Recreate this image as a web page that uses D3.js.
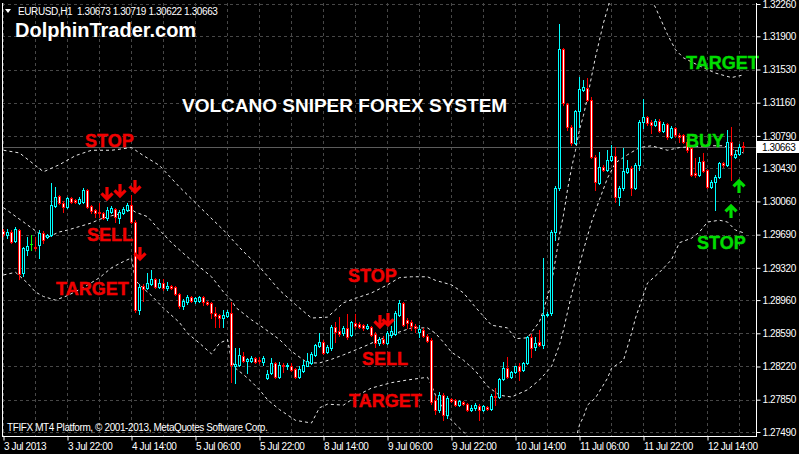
<!DOCTYPE html>
<html><head><meta charset="utf-8">
<script src="https://cdn.jsdelivr.net/npm/d3@7"></script>
<style>html,body{margin:0;padding:0;background:#000;overflow:hidden}</style>
</head><body>
<svg id="c" width="799" height="454" style="display:block;background:#000"></svg>
<script>
const opens = [1.2973,1.2969,1.2972,1.2962,1.2974,1.2926,1.2952,1.2958,1.2955,1.2957,1.2971,1.2966,1.2969,1.3001,1.3012,1.3004,1.3000,1.3010,1.3008,1.3004,1.3005,1.3019,1.3001,1.2996,1.2994,1.2993,1.2988,1.2994,1.2998,1.2988,1.2993,1.2996,1.3002,1.2983,1.2885,1.2912,1.2909,1.2914,1.2920,1.2911,1.2915,1.2909,1.2912,1.2911,1.2903,1.2889,1.2894,1.2900,1.2895,1.2895,1.2900,1.2894,1.2893,1.2882,1.2879,1.2876,1.2878,1.2882,1.2823,1.2824,1.2834,1.2828,1.2828,1.2831,1.2829,1.2827,1.2809,1.2815,1.2826,1.2810,1.2824,1.2822,1.2823,1.2819,1.2810,1.2817,1.2823,1.2826,1.2835,1.2845,1.2849,1.2838,1.2843,1.2866,1.2862,1.2859,1.2865,1.2857,1.2871,1.2869,1.2868,1.2865,1.2866,1.2858,1.2848,1.2853,1.2848,1.2857,1.2858,1.2879,1.2893,1.2874,1.2872,1.2867,1.2861,1.2863,1.2856,1.2852,1.2785,1.2774,1.2790,1.2768,1.2786,1.2785,1.2779,1.2782,1.2780,1.2773,1.2776,1.2778,1.2774,1.2777,1.2775,1.2789,1.2788,1.2808,1.2820,1.2810,1.2816,1.2822,1.2818,1.2826,1.2855,1.2844,1.2849,1.2846,1.2879,1.2882,1.2972,1.3021,1.3176,1.3115,1.3089,1.3071,1.3107,1.3130,1.3132,1.3119,1.3056,1.3027,1.3044,1.3041,1.3052,1.3057,1.3011,1.3021,1.3039,1.3043,1.3021,1.3047,1.3095,1.3100,1.3095,1.3091,1.3096,1.3085,1.3092,1.3078,1.3088,1.3080,1.3080,1.3072,1.3066,1.3038,1.3035,1.3051,1.3041,1.3022,1.3028,1.3033,1.3049,1.3047,1.3072,1.3056,1.3059,1.30673];
const highs = [1.2975,1.2975,1.2974,1.2978,1.2975,1.2955,1.2966,1.2969,1.2966,1.2974,1.2973,1.2970,1.3027,1.3022,1.3013,1.3006,1.3011,1.3011,1.3009,1.3011,1.3021,1.3020,1.3002,1.2998,1.3004,1.2994,1.3000,1.3001,1.2999,1.2996,1.3000,1.3004,1.3013,1.2985,1.2914,1.2914,1.2926,1.2930,1.2921,1.2920,1.2920,1.2916,1.2913,1.2912,1.2904,1.2897,1.2902,1.2901,1.2900,1.2901,1.2901,1.2895,1.2894,1.2888,1.2880,1.2885,1.2885,1.2894,1.2843,1.2843,1.2838,1.2831,1.2834,1.2833,1.2833,1.2834,1.2818,1.2831,1.2827,1.2827,1.2826,1.2826,1.2826,1.2820,1.2822,1.2829,1.2837,1.2838,1.2847,1.2859,1.2852,1.2846,1.2868,1.2872,1.2877,1.2867,1.2880,1.2873,1.2880,1.2872,1.2869,1.2869,1.2867,1.2861,1.2855,1.2856,1.2862,1.2867,1.2884,1.2896,1.2894,1.2876,1.2874,1.2869,1.2868,1.2865,1.2858,1.2854,1.2789,1.2794,1.2792,1.2789,1.2787,1.2786,1.2785,1.2784,1.2781,1.2779,1.2781,1.2780,1.2779,1.2778,1.2791,1.2798,1.2809,1.2827,1.2833,1.2817,1.2823,1.2826,1.2827,1.2856,1.2858,1.2855,1.2863,1.2943,1.2883,1.2974,1.3023,1.3204,1.3177,1.3116,1.3091,1.3108,1.3145,1.3141,1.3144,1.3122,1.3058,1.3061,1.3047,1.3063,1.3069,1.3067,1.3023,1.3066,1.3052,1.3045,1.3049,1.3097,1.3120,1.3101,1.3097,1.3098,1.3098,1.3095,1.3093,1.3090,1.3089,1.3082,1.3081,1.3075,1.3068,1.3054,1.3056,1.3060,1.3042,1.3030,1.3035,1.3050,1.3050,1.3086,1.3089,1.3063,1.3070,1.30719];
const lows = [1.2967,1.2965,1.2960,1.2961,1.2920,1.2923,1.2946,1.2952,1.2952,1.2943,1.2960,1.2965,1.2967,1.3000,1.3003,1.2994,1.2999,1.3004,1.3004,1.3003,1.3004,1.2999,1.2993,1.2989,1.2989,1.2986,1.2985,1.2993,1.2983,1.2982,1.2992,1.2995,1.2982,1.2883,1.2880,1.2895,1.2908,1.2913,1.2909,1.2909,1.2907,1.2907,1.2908,1.2902,1.2887,1.2886,1.2892,1.2894,1.2893,1.2894,1.2891,1.2891,1.2876,1.2866,1.2866,1.2866,1.2877,1.2805,1.2804,1.2823,1.2827,1.2815,1.2827,1.2826,1.2826,1.2824,1.2808,1.2814,1.2809,1.2809,1.2816,1.2819,1.2817,1.2809,1.2809,1.2816,1.2822,1.2825,1.2834,1.2844,1.2836,1.2837,1.2840,1.2849,1.2856,1.2857,1.2853,1.2856,1.2865,1.2865,1.2863,1.2864,1.2856,1.2844,1.2846,1.2847,1.2847,1.2855,1.2857,1.2878,1.2867,1.2865,1.2863,1.2861,1.2855,1.2855,1.2849,1.2780,1.2769,1.2771,1.2762,1.2765,1.2782,1.2778,1.2778,1.2779,1.2772,1.2772,1.2773,1.2762,1.2772,1.2773,1.2774,1.2779,1.2787,1.2807,1.2809,1.2809,1.2815,1.2807,1.2817,1.2825,1.2833,1.2840,1.2845,1.2843,1.2878,1.2879,1.2963,1.3019,1.3113,1.3086,1.3069,1.3070,1.3089,1.3129,1.3118,1.3054,1.3019,1.3025,1.3040,1.3040,1.3051,1.3005,1.3002,1.3019,1.3038,1.3013,1.3020,1.3041,1.3088,1.3091,1.3082,1.3090,1.3083,1.3083,1.3075,1.3077,1.3078,1.3072,1.3071,1.3061,1.3034,1.3033,1.3034,1.3039,1.3021,1.3021,1.2996,1.3032,1.3044,1.3045,1.3030,1.3054,1.3058,1.30622];
const closes = [1.2970,1.2972,1.2961,1.2975,1.2925,1.2954,1.2956,1.2958,1.2954,1.2971,1.2963,1.2969,1.3002,1.3011,1.3004,1.3000,1.3010,1.3005,1.3005,1.3009,1.3019,1.3000,1.2995,1.2993,1.2993,1.2988,1.2996,1.2999,1.2989,1.2994,1.2998,1.3002,1.2983,1.2885,1.2911,1.2908,1.2915,1.2920,1.2911,1.2915,1.2909,1.2912,1.2909,1.2903,1.2889,1.2895,1.2900,1.2895,1.2898,1.2900,1.2894,1.2892,1.2882,1.2878,1.2876,1.2879,1.2883,1.2824,1.2825,1.2835,1.2828,1.2830,1.2831,1.2827,1.2828,1.2831,1.2814,1.2826,1.2810,1.2824,1.2822,1.2824,1.2818,1.2810,1.2819,1.2824,1.2828,1.2836,1.2846,1.2849,1.2837,1.2844,1.2866,1.2861,1.2858,1.2865,1.2855,1.2872,1.2867,1.2866,1.2865,1.2867,1.2857,1.2848,1.2853,1.2848,1.2859,1.2862,1.2882,1.2893,1.2868,1.2871,1.2867,1.2865,1.2864,1.2856,1.2850,1.2782,1.2774,1.2790,1.2768,1.2787,1.2784,1.2779,1.2784,1.2780,1.2774,1.2776,1.2779,1.2774,1.2778,1.2775,1.2789,1.2788,1.2808,1.2820,1.2810,1.2816,1.2822,1.2817,1.2826,1.2855,1.2843,1.2848,1.2846,1.2879,1.2880,1.2972,1.3021,1.3176,1.3116,1.3089,1.3071,1.3107,1.3131,1.3134,1.3119,1.3056,1.3028,1.3044,1.3041,1.3052,1.3057,1.3011,1.3021,1.3040,1.3043,1.3021,1.3047,1.3095,1.3100,1.3093,1.3091,1.3096,1.3085,1.3092,1.3078,1.3088,1.3080,1.3078,1.3072,1.3063,1.3035,1.3035,1.3050,1.3040,1.3022,1.3028,1.3033,1.3049,1.3047,1.3072,1.3058,1.3059,1.3067,1.30663];

const timeLabels = ["3 Jul 2013","3 Jul 22:00","4 Jul 14:00","5 Jul 06:00","5 Jul 22:00","8 Jul 14:00","9 Jul 06:00","9 Jul 22:00","10 Jul 14:00","11 Jul 06:00","11 Jul 22:00","12 Jul 14:00"];
const priceTicks = [1.32260,1.31900,1.31530,1.31160,1.30790,1.30430,1.30060,1.29690,1.29320,1.28960,1.28590,1.28220,1.27850,1.27490];

const upperBand = [[0,1.3063],[4,1.3060],[8,1.3046],[10,1.3039],[14,1.3047],[18,1.3057],[22,1.3063],[27,1.3063],[32,1.3066],[33,1.3063],[35,1.3057],[39,1.3046],[44,1.3022],[49,1.3000],[55,1.2974],[60,1.2950],[64,1.2933],[69,1.2907],[73,1.2891],[77,1.2876],[81,1.2877],[85,1.2893],[88,1.2898],[92,1.2904],[96,1.2913],[99,1.2921],[102,1.2922],[106,1.2922],[108,1.2918],[112,1.2913],[115,1.2904],[118,1.2888],[122,1.2868],[126,1.2865],[128,1.2853],[131,1.2854],[134,1.2872],[135,1.2885],[137,1.2915],[138,1.2941],[139,1.2969],[140,1.2991],[141,1.3019],[142,1.3043],[143,1.3063],[144,1.3086],[145,1.3102],[146,1.3122],[147,1.3145],[148,1.3167],[149,1.3186],[150,1.3205],[152,1.3236],[156,1.3258],[160,1.3247],[163,1.3222],[166,1.3192],[168,1.3175],[170,1.3166],[174,1.3157],[178,1.3149],[182,1.3144],[185,1.3147]];
const middleBand = [[0,1.2999],[5,1.2983],[9,1.2970],[11,1.2966],[14,1.2972],[16,1.2974],[19,1.2978],[22,1.2982],[24,1.2986],[27,1.2990],[30,1.2993],[32,1.2997],[33,1.2994],[36,1.2989],[39,1.2974],[42,1.2960],[46,1.2944],[52,1.2922],[55,1.2905],[57,1.2896],[58,1.2888],[62,1.2874],[65,1.2865],[69,1.2852],[72,1.2839],[76,1.2826],[79,1.2826],[82,1.2830],[85,1.2835],[90,1.2844],[94,1.2852],[98,1.2859],[102,1.2865],[106,1.2865],[108,1.2859],[110,1.2849],[112,1.2838],[115,1.2829],[118,1.2817],[121,1.2800],[124,1.2790],[127,1.2788],[131,1.2796],[134,1.2807],[137,1.2822],[139,1.2846],[140,1.2863],[142,1.2902],[145,1.2952],[147,1.2983],[149,1.3008],[151,1.3032],[153,1.3049],[156,1.3058],[159,1.3066],[162,1.3068],[166,1.3063],[169,1.3066],[172,1.3067],[176,1.3068],[180,1.3068],[183,1.3063],[185,1.3060]];
const lowerBand = [[0,1.2924],[3,1.2927],[6,1.2915],[8,1.2905],[10,1.2900],[13,1.2896],[16,1.2901],[20,1.2910],[24,1.2921],[27,1.2932],[30,1.2939],[32,1.2943],[33,1.2918],[34,1.2913],[37,1.2901],[40,1.2887],[44,1.2871],[46,1.2859],[49,1.2848],[52,1.2836],[54,1.2848],[56,1.2852],[57,1.2829],[58,1.2820],[60,1.2813],[62,1.2805],[64,1.2796],[66,1.2785],[69,1.2774],[73,1.2762],[77,1.2759],[79,1.2776],[81,1.2780],[85,1.2779],[89,1.2791],[92,1.2798],[97,1.2804],[101,1.2807],[106,1.2810],[107,1.2801],[108,1.2790],[110,1.2774],[112,1.2762],[115,1.2749],[117,1.2740],[120,1.2723],[125,1.2712],[135,1.2709],[141,1.2729],[143,1.2740],[144,1.2757],[145,1.2766],[146,1.2779],[148,1.2787],[151,1.2809],[152,1.2820],[155,1.2829],[157,1.2859],[158,1.2876],[161,1.2915],[164,1.2927],[167,1.2941],[169,1.2960],[172,1.2965],[174,1.2972],[176,1.2983],[179,1.2985],[181,1.2983],[183,1.2974],[185,1.2971]];

const signalArrows = [
  {bar:26, price:1.30076, dir:"down", color:"red"},
  {bar:29.25, price:1.30110, dir:"down", color:"red"},
  {bar:33, price:1.30154, dir:"down", color:"red"},
  {bar:34.25, price:1.29407, dir:"down", color:"red"},
  {bar:94.25, price:1.28650, dir:"down", color:"red"},
  {bar:96.25, price:1.28672, dir:"down", color:"red"},
  {bar:184, price:1.30299, dir:"up", color:"green"},
  {bar:182, price:1.30020, dir:"up", color:"green"}
];
const signalLabels = [
  {text:"STOP", bar:20.5, price:1.30667, color:"red"},
  {text:"SELL", bar:21, price:1.29619, color:"red"},
  {text:"TARGET", bar:13.25, price:1.29017, color:"red"},
  {text:"STOP", bar:86.25, price:1.29162, color:"red"},
  {text:"SELL", bar:89.75, price:1.28237, color:"red"},
  {text:"TARGET", bar:86.5, price:1.27769, color:"red"},
  {text:"TARGET", bar:170.75, price:1.31536, color:"green"},
  {text:"BUY", bar:170.75, price:1.30667, color:"green"},
  {text:"STOP", bar:173.5, price:1.29530, color:"green"}
];

const COL = {red:"#f00000", green:"#00dc00", up:"#00ffff", down:"#ff0000"};
const W = 799, H = 454;
const L = 2, R = 756, T = 3, B = 436;
const svg = d3.select("#c");
const n = closes.length;
const x = d3.scaleLinear().domain([0, n-1]).range([3, 3 + 4*(n-1)]);
const y = d3.scaleLinear().domain([1.27490, 1.32260]).range([432, 4]);

svg.append("defs").append("clipPath").attr("id","clip")
  .append("rect").attr("x",L+1).attr("y",T).attr("width",R-L-1).attr("height",B-T);

// grid
const grid = svg.append("g").attr("clip-path","url(#clip)");
grid.selectAll("line.h").data(priceTicks).join("line")
  .attr("x1",L).attr("x2",R)
  .attr("y1",d=>Math.round(y(d))+0.5).attr("y2",d=>Math.round(y(d))+0.5)
  .attr("stroke","#474747").attr("stroke-dasharray","3,3");
grid.selectAll("line.v").data(d3.range(0, n, 8)).join("line")
  .attr("y1",T).attr("y2",B)
  .attr("x1",d=>x(d)+0.5).attr("x2",d=>x(d)+0.5)
  .attr("stroke","#474747").attr("stroke-dasharray","3,3");

// text labels (background layer)
svg.append("text").attr("x",15).attr("y",37).attr("fill","#fff")
  .attr("font-family","Liberation Sans, Arial, sans-serif").attr("font-weight","bold")
  .attr("font-size",20).text("DolphinTrader.com");
svg.append("text").attr("x",182).attr("y",112).attr("fill","#fff")
  .attr("font-family","Liberation Sans, Arial, sans-serif").attr("font-weight","bold")
  .attr("font-size",19).text("VOLCANO SNIPER FOREX SYSTEM");

// current price line
const lastClose = closes[n-1];
svg.append("line").attr("x1",L).attr("x2",R)
  .attr("y1",Math.round(y(lastClose))+0.5).attr("y2",Math.round(y(lastClose))+0.5)
  .attr("stroke","#5c5c5c");

// bands
const band = d3.line().x(d=>x(d[0])+0.5).y(d=>y(d[1]));
const bandG = svg.append("g").attr("clip-path","url(#clip)");
[upperBand, middleBand, lowerBand].forEach(b=>{
  bandG.append("path").attr("d", band(b)).attr("fill","none")
    .attr("stroke","#e8e8e8").attr("stroke-width",1).attr("stroke-dasharray","3,3");
});

// candles
const cg = svg.append("g").attr("clip-path","url(#clip)").attr("shape-rendering","crispEdges");
d3.range(n).forEach(i=>{
  const cx = Math.round(x(i));
  const o = opens[i], c = closes[i];
  const doji = o === c;
  const bull = c > o;
  const col = doji ? "#00ff00" : (bull ? COL.up : COL.down);
  const yh = Math.round(y(highs[i])), yl = Math.round(y(lows[i]));
  cg.append("rect").attr("x",cx).attr("y",yh).attr("width",1).attr("height",Math.max(1,yl-yh+1)).attr("fill",col);
  const top = Math.round(y(Math.max(o,c))), bot = Math.round(y(Math.min(o,c)));
  cg.append("rect").attr("x",cx-1).attr("y",top).attr("width",3).attr("height",Math.max(1,bot-top+1)).attr("fill",col);
  if (bot - top >= 2) {
    cg.append("rect").attr("x",cx).attr("y",top+1).attr("width",1).attr("height",bot-top-1)
      .attr("fill", bull ? "#000" : "#fff");
  }
});

// annotation labels
svg.selectAll("text.sig").data(signalLabels).join("text")
  .attr("x",d=>x(d.bar)).attr("y",d=>y(d.price))
  .attr("fill",d=>COL[d.color])
  .attr("stroke",d=>COL[d.color]).attr("stroke-width",0.4)
  .attr("font-family","Liberation Sans, Arial, sans-serif").attr("font-weight","bold")
  .attr("font-size",18).text(d=>d.text);

// arrows
svg.selectAll("path.arr").data(signalArrows).join("path")
  .attr("d",d=>{
    const cx = x(d.bar), ty = y(d.price);
    if (d.dir === "down") {
      return `M${cx},${ty-13}L${cx},${ty-1}M${cx-5.5},${ty-6.5}L${cx},${ty-1}L${cx+5.5},${ty-6.5}`;
    }
    return `M${cx},${ty+13}L${cx},${ty+1}M${cx-5.5},${ty+6.5}L${cx},${ty+1}L${cx+5.5},${ty+6.5}`;
  })
  .attr("fill","none").attr("stroke",d=>COL[d.color]).attr("stroke-width",3.2)
  .attr("stroke-linejoin","miter");

// frame
svg.append("path").attr("d",`M${L+0.5},${T}V${B+0.5}H${R+0.5}V${T}`)
  .attr("fill","none").attr("stroke","#fff").attr("shape-rendering","crispEdges");

// axes
const fontAxis = "Liberation Sans, Arial, sans-serif";
const yAxis = d3.axisRight(y).tickValues(priceTicks).tickFormat(d3.format(".5f")).tickSize(4).tickSizeOuter(0);
const yg = svg.append("g").attr("transform",`translate(${R+0.5},0)`).call(yAxis);
yg.select(".domain").remove();
yg.selectAll("line").attr("stroke","#fff");
yg.selectAll("text").attr("fill","#fff").attr("font-family",fontAxis).attr("font-size",10)
  .attr("letter-spacing","-0.4px").attr("x",6);

const xAxis = d3.axisBottom(x).tickValues(d3.range(0, n, 16)).tickFormat((d,i)=>timeLabels[i]).tickSize(4).tickSizeOuter(0);
const xg = svg.append("g").attr("transform",`translate(0.5,${B+0.5})`).call(xAxis);
xg.select(".domain").remove();
xg.selectAll("line").attr("stroke","#fff");
xg.selectAll("text").attr("fill","#fff").attr("font-family",fontAxis).attr("font-size",10)
  .attr("letter-spacing","-0.4px").attr("text-anchor","start").attr("dx","0").attr("y",6).attr("dy","0.71em");

// current price box
const py = Math.round(y(lastClose));
svg.append("rect").attr("x",R+1).attr("y",py-6).attr("width",W-R-1).attr("height",12).attr("fill","#fff");
svg.append("text").attr("x",R+6).attr("y",py+4).attr("fill","#000").attr("font-family",fontAxis)
  .attr("font-size",10).attr("letter-spacing","-0.4px").text(d3.format(".5f")(lastClose));

// header
svg.append("path").attr("d","M5,9L11,9L8,13Z").attr("fill","#fff");
svg.append("text").attr("x",18).attr("y",15).attr("fill","#fff").attr("font-family",fontAxis)
  .attr("font-size",10).attr("letter-spacing","-0.4px").attr("xml:space","preserve")
  .text(`EURUSD,H1  ${d3.format(".5f")(opens[n-1])} ${d3.format(".5f")(highs[n-1])} ${d3.format(".5f")(lows[n-1])} ${d3.format(".5f")(closes[n-1])}`);
svg.append("text").attr("x",7).attr("y",431).attr("fill","#fff").attr("font-family",fontAxis)
  .attr("font-size",10).attr("letter-spacing","-0.4px")
  .text("TFIFX MT4 Platform, © 2001-2013, MetaQuotes Software Corp.");
</script>
</body></html>
